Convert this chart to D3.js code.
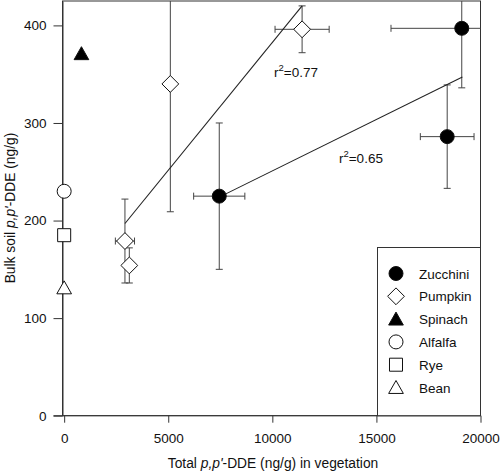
<!DOCTYPE html>
<html>
<head>
<meta charset="utf-8">
<script src="https://cdn.jsdelivr.net/npm/d3@7"></script>
<style>
  body { margin: 0; background: #fff; }
  svg { font-family: "Liberation Sans", Arial, sans-serif; }
</style>
</head>
<body>
<svg id="chart" width="500" height="472"></svg>
<script>
/*
  Data
*/
const zucchiniX = [7450, 19100, 18400];
const zucchiniY = [225, 397, 286];
const zucchiniXErr = [1230, 3400, 1290];
const zucchiniYErr = [75, 61, 53];

const pumpkinX = [11430, 5100, 2920, 3130];
const pumpkinY = [396, 340, 179, 154];
const pumpkinXErr = [1300, 0, 460, 0];
const pumpkinYErr = [24, 131, 43, 18];

const spinachX = [830];
const spinachY = [371];
const alfalfaX = [0];
const alfalfaY = [230];
const ryeX = [0];
const ryeY = [185];
const beanX = [0];
const beanY = [131];

// regression line end points [x, y]
const pumpkinFit = [[2920, 197], [11430, 420]];
const zucchiniFit = [[7450, 224], [19130, 347]];

const fitLabels = ["0.77", "0.65"];
const fitLabelX = [10080, 13200];
const fitLabelY = [347.5, 258.7];

const xTicks = [0, 5000, 10000, 15000, 20000];
const yTicks = [0, 100, 200, 300, 400];

const legendNames = ["Zucchini", "Pumpkin", "Spinach", "Alfalfa", "Rye", "Bean"];
const legendShapes = ["circle", "diamond", "triangle", "circle", "square", "triangle"];
const legendFilled = [true, false, true, false, false, false];

/*
  Scales and axes
*/
const svg = d3.select("#chart");

const plot = { left: 62.5, right: 480.5, top: 1, bottom: 415.7 };

let x = d3.scaleLinear().domain([-80, 20000]).range([plot.left, plot.right]);
let y = d3.scaleLinear().domain([0, 425]).range([plot.bottom, plot.top]);

svg.append("clipPath").attr("id", "clip")
  .append("rect")
  .attr("x", plot.left).attr("y", plot.top)
  .attr("width", plot.right - plot.left).attr("height", plot.bottom - plot.top);

// frame
svg.append("rect")
  .attr("x", plot.left).attr("y", plot.top)
  .attr("width", plot.right - plot.left).attr("height", plot.bottom - plot.top)
  .attr("fill", "none").attr("stroke", "#333").attr("stroke-width", 1);

let xAxis = svg.append("g")
  .attr("transform", "translate(0," + plot.bottom + ")")
  .call(d3.axisBottom(x).tickValues(xTicks).tickFormat(d3.format("d")).tickSize(7).tickPadding(11).tickSizeOuter(0));

let yAxis = svg.append("g")
  .attr("transform", "translate(" + plot.left + ",0)")
  .call(d3.axisLeft(y).tickValues(yTicks).tickSize(9).tickPadding(7).tickSizeOuter(0));

[xAxis, yAxis].forEach(function (g) {
  g.select(".domain").attr("stroke", "#333");
  g.selectAll(".tick line").attr("stroke", "#333");
  g.selectAll(".tick text").attr("fill", "#111").style("font-size", "13.5px")
    .style("font-family", "'Liberation Sans', Arial, sans-serif");
});
// x axis line runs a little past the y axis, like the 0 tick
xAxis.select(".domain").attr("d", "M" + (plot.left - 9) + ",0H" + plot.right);

// axis titles
let xTitle = svg.append("text")
  .attr("x", 273).attr("y", 467.5)
  .attr("text-anchor", "middle")
  .style("font-size", "13.8px").attr("fill", "#111");
xTitle.append("tspan").text("Total ");
xTitle.append("tspan").style("font-style", "italic").text("p,p'");
xTitle.append("tspan").text("-DDE (ng/g) in vegetation");

let yTitle = svg.append("text")
  .attr("transform", "translate(15,208) rotate(-90)")
  .attr("text-anchor", "middle")
  .style("font-size", "13.8px").attr("fill", "#111");
yTitle.append("tspan").text("Bulk soil ");
yTitle.append("tspan").style("font-style", "italic").text("p,p'");
yTitle.append("tspan").text("-DDE (ng/g)");

/*
  Marks
*/
function shapePath(type, s) {
  if (type === "circle") {
    return "M" + s + ",0A" + s + "," + s + " 0 1,1 " + (-s) + ",0A" + s + "," + s + " 0 1,1 " + s + ",0Z";
  }
  if (type === "diamond") {
    let d = s * 1.2;
    return "M0," + (-d) + "L" + d + ",0L0," + d + "L" + (-d) + ",0Z";
  }
  if (type === "square") {
    let h = s * 0.93;
    return "M" + (-h) + "," + (-h) + "H" + h + "V" + h + "H" + (-h) + "Z";
  }
  // triangle
  let w = s * 1.05;
  return "M0," + (-s) + "L" + w + "," + (s * 0.85) + "L" + (-w) + "," + (s * 0.85) + "Z";
}

function toPoints(xs, ys, xe, ye) {
  return xs.map(function (v, i) {
    return { x: v, y: ys[i], xe: xe ? xe[i] : 0, ye: ye ? ye[i] : 0 };
  });
}

// error bars and fit lines are clipped to the frame, symbols are not
let layer = svg.append("g").attr("clip-path", "url(#clip)");
let symbolLayer = svg.append("g");

function drawErrors(points) {
  let cap = 3.5;
  let g = layer.append("g").attr("stroke", "#444").attr("stroke-width", 1).attr("fill", "none");
  points.forEach(function (p) {
    if (p.ye > 0) {
      g.append("line")
        .attr("x1", x(p.x)).attr("x2", x(p.x))
        .attr("y1", y(p.y - p.ye)).attr("y2", y(p.y + p.ye));
      [p.y - p.ye, p.y + p.ye].forEach(function (v) {
        g.append("line")
          .attr("x1", x(p.x) - cap).attr("x2", x(p.x) + cap)
          .attr("y1", y(v)).attr("y2", y(v));
      });
    }
    if (p.xe > 0) {
      g.append("line")
        .attr("x1", x(p.x - p.xe)).attr("x2", x(p.x + p.xe))
        .attr("y1", y(p.y)).attr("y2", y(p.y));
      [p.x - p.xe, p.x + p.xe].forEach(function (v) {
        g.append("line")
          .attr("x1", x(v)).attr("x2", x(v))
          .attr("y1", y(p.y) - cap).attr("y2", y(p.y) + cap);
      });
    }
  });
}

function drawSymbols(points, type, filled) {
  symbolLayer.append("g").selectAll("path")
    .data(points)
    .enter()
    .append("path")
    .attr("transform", function (d) { return "translate(" + x(d.x) + "," + y(d.y) + ")"; })
    .attr("d", shapePath(type, 7))
    .attr("fill", filled ? "#000" : "#fff")
    .attr("stroke", "#111")
    .attr("stroke-width", 1);
}

let zucchini = toPoints(zucchiniX, zucchiniY, zucchiniXErr, zucchiniYErr);
let pumpkin = toPoints(pumpkinX, pumpkinY, pumpkinXErr, pumpkinYErr);

drawErrors(zucchini);
drawErrors(pumpkin);

// regression lines
let lineGen = d3.line()
  .x(function (d) { return x(d[0]); })
  .y(function (d) { return y(d[1]); });

[pumpkinFit, zucchiniFit].forEach(function (f) {
  layer.append("path")
    .attr("d", lineGen(f))
    .attr("fill", "none")
    .attr("stroke", "#222")
    .attr("stroke-width", 1.1);
});

drawSymbols(zucchini, "circle", true);
drawSymbols(pumpkin, "diamond", false);
drawSymbols(toPoints(spinachX, spinachY), "triangle", true);
drawSymbols(toPoints(alfalfaX, alfalfaY), "circle", false);
drawSymbols(toPoints(ryeX, ryeY), "square", false);
drawSymbols(toPoints(beanX, beanY), "triangle", false);

// r^2 labels
fitLabels.forEach(function (t, i) {
  let lab = svg.append("text")
    .attr("x", x(fitLabelX[i])).attr("y", y(fitLabelY[i]))
    .style("font-size", "13.5px").attr("fill", "#111");
  lab.append("tspan").text("r");
  lab.append("tspan").attr("dy", -6).style("font-size", "9.5px").text("2");
  lab.append("tspan").attr("dy", 6).text("=" + t);
});

/*
  Legend
*/
let legend = svg.append("g");
let lg = { left: 377.5, top: 247.5, symX: 396, textX: 419, row0: 273.5, step: 22.8 };

legend.append("rect")
  .attr("x", lg.left).attr("y", lg.top)
  .attr("width", plot.right - lg.left).attr("height", plot.bottom - lg.top)
  .attr("fill", "#fff").attr("stroke", "#333").attr("stroke-width", 1);

legendNames.forEach(function (name, i) {
  let cy = lg.row0 + i * lg.step;
  legend.append("path")
    .attr("transform", "translate(" + lg.symX + "," + cy + ")")
    .attr("d", shapePath(legendShapes[i], 7))
    .attr("fill", legendFilled[i] ? "#000" : "#fff")
    .attr("stroke", "#111").attr("stroke-width", 1);
  legend.append("text")
    .attr("x", lg.textX).attr("y", cy + 5)
    .style("font-size", "13.5px").attr("fill", "#111")
    .text(name);
});
</script>
</body>
</html>
